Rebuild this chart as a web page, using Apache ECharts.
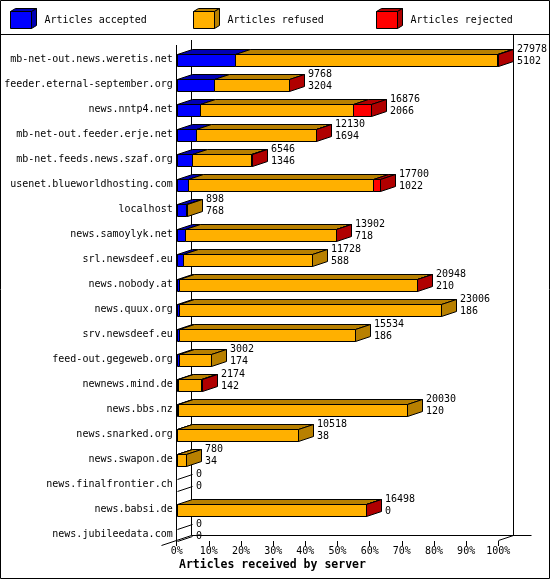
<!DOCTYPE html>
<html>
<head>
<meta charset="utf-8">
<script src="https://cdn.jsdelivr.net/npm/echarts@6/dist/echarts.min.js"></script>
<style>
html,body{margin:0;padding:0;background:#fff;}
#chart{width:550px;height:580px;}
</style>
</head>
<body>
<div id="chart"></div>
<script>
// ---- data ----
const categories = [
  'mb-net-out.news.weretis.net','feeder.eternal-september.org','news.nntp4.net',
  'mb-net-out.feeder.erje.net','mb-net.feeds.news.szaf.org','usenet.blueworldhosting.com',
  'localhost','news.samoylyk.net','srl.newsdeef.eu','news.nobody.at','news.quux.org',
  'srv.newsdeef.eu','feed-out.gegeweb.org','newnews.mind.de','news.bbs.nz',
  'news.snarked.org','news.swapon.de','news.finalfrontier.ch','news.babsi.de',
  'news.jubileedata.com'
];
const totalArticles = [27978, 9768, 16876, 12130, 6546, 17700, 898, 13902, 11728, 20948,
  23006, 15534, 3002, 2174, 20030, 10518, 780, 0, 16498, 0];
const acceptedArticles = [5102, 3204, 2066, 1694, 1346, 1022, 768, 718, 588, 210,
  186, 186, 174, 142, 120, 38, 34, 0, 0, 0];
const refusedArticles = [22776, 6552, 13230, 10401, 5130, 16088, 130, 13114, 11140, 20668,
  22820, 15348, 2828, 1982, 19910, 10480, 746, 0, 16448, 0];
const rejectedArticles = [100, 12, 1580, 35, 70, 590, 0, 70, 0, 70,
  0, 0, 0, 50, 0, 0, 0, 0, 50, 0];
const xTickValues = [0, 10, 20, 30, 40, 50, 60, 70, 80, 90, 100];

// ---- styles ----
const FONT = '"DejaVu Sans Mono", "Liberation Mono", monospace';
const FRONT = ['#0000FF', '#FFB000', '#FF0000'];
const DARK  = ['#0000B4', '#B88000', '#B00000'];
const NAMES = ['Articles accepted', 'Articles refused', 'Articles rejected'];
const DX = 15, DY = 5, FH = 12;

const maxTotal = Math.max.apply(null, totalArticles);
const pct = v => v / maxTotal * 100;

const segs = [acceptedArticles, refusedArticles, rejectedArticles];
// which segment carries the side face of each bar
const lastSeg = categories.map((c, i) => {
  for (let s = 2; s >= 0; s--) if (segs[s][i] > 0) return s;
  return -1;
});

function segData(s) {
  return categories.map((c, i) => {
    let start = 0;
    for (let k = 0; k < s; k++) start += segs[k][i];
    const end = start + segs[s][i];
    let flag = 0;
    if (lastSeg[i] === s) flag = 1;
    if (lastSeg[i] === -1 && s === 0) flag = 2;
    return [i, pct(start), pct(end), flag];
  });
}

const h = v => Math.round(v) + 0.5;

function makeRender(s) {
  return function (params, api) {
    const cat = api.value(0);
    const p0 = api.coord([api.value(1), cat]);
    const p1 = api.coord([api.value(2), cat]);
    const flag = api.value(3);
    const x0 = h(p0[0]), x1 = h(p1[0]);
    const yT = h(p0[1] - FH / 2), yB = h(p0[1] + FH / 2);
    const children = [];
    const st = { stroke: '#000', lineWidth: 1 };
    if (p1[0] - p0[0] > 0.3) {
      children.push({ type: 'rect', shape: { x: x0, y: yT, width: x1 - x0, height: yB - yT },
        style: Object.assign({ fill: FRONT[s] }, st) });
      children.push({ type: 'polygon', shape: { points: [[x0, yT], [x0 + DX, yT - DY], [x1 + DX, yT - DY], [x1, yT]] },
        style: Object.assign({ fill: DARK[s] }, st) });
    }
    if (flag === 1) {
      children.push({ type: 'polygon', shape: { points: [[x1, yT], [x1 + DX, yT - DY], [x1 + DX, yB - DY], [x1, yB]] },
        style: Object.assign({ fill: DARK[s] }, st) });
    } else if (flag === 2) {
      children.push({ type: 'polyline', shape: { points: [[x0, yT], [x0 + DX, yT - DY]] }, style: Object.assign({ fill: null }, st) });
      children.push({ type: 'polyline', shape: { points: [[x0, yB], [x0 + DX, yB - DY]] }, style: Object.assign({ fill: null }, st) });
    }
    return { type: 'group', children: children };
  };
}

function renderLabels(params, api) {
  const cat = api.value(0);
  const p = api.coord([api.value(1), cat]);
  const x = Math.round(p[0]) + DX + 4;
  return { type: 'group', children: [
    { type: 'text', style: { text: String(api.value(2)), x: x, y: p[1] - 10, fill: '#000',
      fontSize: 10, fontFamily: FONT, verticalAlign: 'middle', align: 'left' } },
    { type: 'text', style: { text: String(api.value(3)), x: x, y: p[1] + 1.5, fill: '#000',
      fontSize: 10, fontFamily: FONT, verticalAlign: 'middle', align: 'left' } }
  ]};
}

const series = [0, 1, 2].map(s => ({
  type: 'custom', name: NAMES[s], renderItem: makeRender(s), data: segData(s),
  itemStyle: { color: FRONT[s] }, encode: { x: [1, 2], y: 0 }, clip: false, z: 3
}));
series.push({
  type: 'custom', name: 'labels', renderItem: renderLabels, clip: false, silent: true, z: 4,
  data: categories.map((c, i) => [i, pct(totalArticles[i]), totalArticles[i], acceptedArticles[i]]),
  encode: { x: 1, y: 0 }
});

const legendLefts = [10, 193, 376];
const legends = legendLefts.map((L, s) => ({
  data: [NAMES[s]], left: L, top: 11, padding: 0, itemWidth: 21, itemHeight: 17,
  icon: 'rect', selectedMode: false, itemStyle: { borderColor: '#000', borderWidth: 1 },
  textStyle: { fontFamily: FONT, fontSize: 10, color: '#000', padding: [0, 0, 0, 8] }
}));

const graphics = [];
// outer frame and separator
graphics.push({ type: 'rect', shape: { x: 0.5, y: 0.5, width: 549, height: 578 }, style: { fill: null, stroke: '#000', lineWidth: 1 }, z: 0 });
graphics.push({ type: 'line', shape: { x1: 0, y1: 34.5, x2: 550, y2: 34.5 }, style: { stroke: '#000', lineWidth: 1 }, z: 0 });
// legend cube shading
legendLefts.forEach((L, s) => {
  const x0 = L + 0.5, x1 = L + 21.5, yT = 11.5, yB = 28.5;
  graphics.push({ type: 'polygon', z: 10, shape: { points: [[x0, yT], [x0 + 5, yT - 3], [x1 + 5, yT - 3], [x1, yT]] }, style: { fill: DARK[s], stroke: '#000', lineWidth: 1 } });
  graphics.push({ type: 'polygon', z: 10, shape: { points: [[x1, yT], [x1 + 5, yT - 3], [x1 + 5, yB - 3], [x1, yB]] }, style: { fill: DARK[s], stroke: '#000', lineWidth: 1 } });
});
// 3D frame
const lines = [
  [176.5, 45, 176.5, 540.5],
  [191.5, 40, 191.5, 535.5],
  [513.5, 35, 513.5, 535.5],
  [191.5, 535.5, 531.5, 535.5],
  [161.5, 545.5, 191.5, 535.5],
  [498.5, 540.5, 513.5, 535.5]
];
lines.forEach(l => graphics.push({ type: 'line', z: 0, shape: { x1: l[0], y1: l[1], x2: l[2], y2: l[3] }, style: { stroke: '#000', lineWidth: 1 } }));

const chart = echarts.init(document.getElementById('chart'));
chart.setOption({
  animation: false,
  backgroundColor: '#fff',
  title: { text: 'Articles received by server', left: 179, top: 559, padding: 0,
    textStyle: { fontFamily: FONT, fontSize: 11.5, fontWeight: 'bold', color: '#000' } },
  legend: legends,
  grid: { left: 176.7, right: 51.7, top: 47, bottom: 33 },
  xAxis: {
    type: 'value', min: xTickValues[0], max: xTickValues[xTickValues.length - 1], interval: 10, offset: -6,
    axisLine: { show: false },
    axisTick: { show: true, length: 5, lineStyle: { color: '#000' } },
    splitLine: { show: false },
    axisLabel: { formatter: '{value}%', fontFamily: FONT, fontSize: 10, color: '#000', margin: 5 }
  },
  yAxis: {
    type: 'category', data: categories, inverse: true,
    axisLine: { show: false }, axisTick: { show: false }, splitLine: { show: false },
    axisLabel: { fontFamily: FONT, fontSize: 10, color: '#000', margin: 4 }
  },
  graphic: graphics,
  series: series
});
</script>
</body>
</html>
